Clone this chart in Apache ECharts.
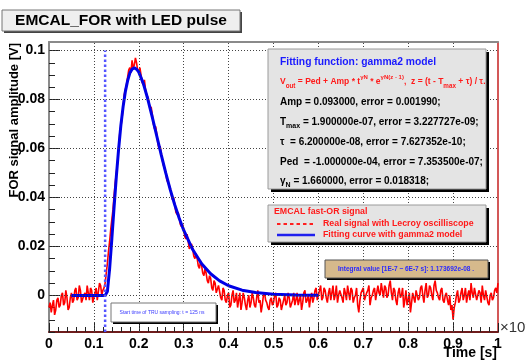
<!DOCTYPE html>
<html><head><meta charset="utf-8">
<script src="https://cdn.jsdelivr.net/npm/echarts@6/dist/echarts.min.js"></script>
<style>html,body{margin:0;padding:0;background:#fff}#c{width:526px;height:361px}</style>
</head><body><div id="c"></div>
<script>
// ---- data (time axis in units of 1e-6 s) ----
const sampleStep = 0.0025;
const signalValues = [
 -0.005,-0.003,-0.007,-0.004,-0.002,-0.008,-0.006,-0.002,-0.001,-0.005,
 -0.004,0.000,0.001,-0.004,-0.003,0.002,-0.001,-0.006,-0.005,-0.001,
 0.001,-0.003,-0.002,0.002,0.003,-0.002,-0.001,0.004,0.002,-0.003,
 -0.003,0.000,0.001,-0.002,0.004,0.001,-0.002,0.003,0.002,-0.003,
 -0.001,0.001,0.003,-0.002,-0.002,0.005,0.004,0.000,0.002,0.003,
 0.005,0.009,0.013,0.018,0.022,0.027,0.031,0.035,0.041,0.046,
 0.050,0.054,0.060,0.066,0.069,0.072,0.077,0.082,0.084,0.086,
 0.089,0.092,0.093,0.091,0.096,0.093,0.094,0.097,0.095,0.092,
 0.091,0.093,0.090,0.087,0.086,0.088,0.084,0.082,0.081,0.079,
 0.076,0.077,0.074,0.070,0.068,0.069,0.066,0.062,0.060,0.061,
 0.058,0.055,0.053,0.052,0.050,0.047,0.046,0.045,0.044,0.041,
 0.039,0.040,0.037,0.034,0.033,0.034,0.032,0.029,0.028,0.029,
 0.027,0.024,0.023,0.025,0.022,0.019,0.019,0.021,0.019,0.016,
 0.015,0.017,0.015,0.012,0.011,0.014,0.012,0.009,0.008,0.011,
 0.009,0.006,0.005,0.008,0.007,0.003,0.002,0.006,0.005,0.001,
 0.001,0.004,0.004,-0.001,-0.002,0.003,0.002,-0.002,-0.003,0.000,
 0.001,-0.005,-0.004,0.000,0.002,-0.003,-0.002,0.001,-0.005,-0.002,
 0.001,-0.006,-0.003,0.001,-0.001,-0.004,-0.006,-0.002,0.000,-0.005,
 -0.003,0.001,-0.001,-0.004,-0.005,-0.001,0.002,-0.003,-0.002,-0.007,
 -0.004,0.000,0.001,-0.002,-0.003,-0.005,-0.006,-0.002,-0.001,-0.004,
 -0.003,0.000,0.001,-0.005,-0.004,-0.001,-0.002,-0.006,-0.006,-0.002,
 0.000,-0.004,-0.003,0.001,-0.001,-0.005,-0.005,-0.002,0.001,-0.004,
 -0.002,0.001,-0.004,-0.002,0.000,-0.006,-0.003,0.001,0.002,-0.003,
 -0.002,0.000,-0.005,-0.001,0.001,-0.003,-0.001,0.002,0.003,-0.002,
 0.000,0.002,0.004,-0.002,-0.001,0.003,0.002,-0.001,-0.003,0.001,
 0.003,-0.002,0.001,0.004,-0.002,0.000,0.004,-0.003,0.000,0.002,
 0.002,-0.001,-0.003,0.003,0.001,-0.002,0.004,0.001,-0.002,0.003,
 0.002,-0.003,-0.001,0.000,0.003,-0.004,-0.007,-0.002,0.001,0.002,
 0.003,-0.002,-0.002,0.001,0.002,0.004,-0.004,-0.001,0.000,0.002,
 0.003,-0.002,-0.002,0.004,0.001,0.000,0.005,0.002,-0.001,0.004,
 0.003,-0.001,0.000,0.004,0.006,0.001,-0.002,0.003,0.002,-0.002,
 -0.004,0.001,0.003,-0.001,0.000,0.003,-0.005,-0.002,0.002,-0.004,
 -0.002,0.001,-0.007,-0.003,0.001,-0.001,-0.003,0.002,0.002,-0.002,
 -0.001,0.003,0.004,0.000,-0.003,0.002,0.005,-0.001,0.000,0.004,
 0.003,0.000,-0.002,0.004,0.006,0.002,0.001,-0.001,-0.002,0.002,
 0.003,-0.002,-0.003,0.000,0.001,-0.002,-0.004,0.000,-0.006,-0.004,
 -0.010,-0.005,-0.003,0.000,0.002,-0.003,-0.002,0.001,0.003,-0.002,
 0.000,0.003,-0.003,0.000,0.002,-0.002,0.005,0.001,-0.001,0.003,
 0.003,-0.002,-0.002,0.002,0.001,-0.003,0.004,0.000,-0.002,0.002,
 0.002,-0.003,-0.004,0.000,0.001,-0.002,-0.001,0.002,0.003,0.001,
 0.005
];
const fitTimes = [0.05,0.1,0.125,0.128,0.13,0.135,0.14,0.145,0.15,0.155,0.16,0.165,0.17,0.175,0.18,0.185,0.19,0.195,0.2,0.21,0.22,0.23,0.24,0.25,0.26,0.27,0.28,0.29,0.3,0.32,0.34,0.36,0.38,0.4,0.43,0.46,0.5,0.55,0.6];
const fitValues = [-0.0001,-0.0001,-0.0001,-0.0001,0.0015,0.0108,0.0232,0.0361,0.0486,0.0596,0.0693,0.0770,0.0832,0.0876,0.0908,0.0924,0.0930,0.0924,0.0912,0.0866,0.0802,0.0728,0.0651,0.0574,0.0500,0.0432,0.0370,0.0315,0.0266,0.0187,0.0129,0.0088,0.0059,0.0039,0.0021,0.0011,0.0004,0.0001,0.0000];
const truStartTime = 0.125;
const truLineRange = [-0.015, 0.1];
const xGridValues = [0.1,0.2,0.3,0.4,0.5,0.6,0.7,0.8,0.9];
const yMajorTicks = [0,0.02,0.04,0.06,0.08,0.1];
const yMinorTicks = [-0.015,-0.01,-0.005,0.005,0.01,0.015,0.025,0.03,0.035,0.045,0.05,0.055,0.065,0.07,0.075,0.085,0.09,0.095];
const yTickLabels = ['0','0.02','0.04','0.06','0.08','0.1'];

const F = '"Liberation Sans", Arial, Helvetica, sans-serif';
const signalData = signalValues.map((v, i) => [+(i * sampleStep).toFixed(4), v]);
const fitData = fitTimes.map((t, i) => [t, fitValues[i]]);

const chart = echarts.init(document.getElementById('c'), null, {renderer: 'canvas'});
const yMin = -0.015, yMax = 0.1035;

function boxWithShadow(x, y, w, h, fill, stroke, sh) {
  return [
    {type: 'rect', shape: {x: x + sh, y: y + sh, width: w, height: h}, style: {fill: '#000'}, z: 100},
    {type: 'rect', shape: {x: x, y: y, width: w, height: h}, style: {fill: fill, stroke: stroke, lineWidth: 1}, z: 101}
  ];
}
function txt(x, y, text, size, color, weight) {
  return {type: 'text', x: x, y: y, z: 110,
    style: {text: text, font: (weight || 'bold') + ' ' + size + 'px ' + F, fill: color, textVerticalAlign: 'middle', textAlign: 'left'}};
}
const subS = (s, c) => ({fontSize: s, fontFamily: F, fontWeight: 'bold', fill: c, verticalAlign: 'bottom', lineHeight: 15});
const supS = (s, c) => ({fontSize: s, fontFamily: F, fontWeight: 'bold', fill: c, verticalAlign: 'top', lineHeight: 15});

const graphics = [].concat(
  // title
  [{type: 'rect', shape: {x: 4, y: 12, width: 238, height: 21}, style: {fill: '#444'}, z: 100},
   {type: 'rect', shape: {x: 2, y: 10, width: 238, height: 21}, style: {fill: '#efefef', stroke: '#777', lineWidth: 1}, z: 101},
   {type: 'text', x: 121, y: 21, z: 110, style: {text: 'EMCAL_FOR with LED pulse', font: 'bold 15.5px ' + F, fill: '#000', textAlign: 'center', textVerticalAlign: 'middle'}}],
  // fit box
  boxWithShadow(268, 49, 218, 140, '#e4e4e4', '#9a9a9a', 3),
  [txt(280, 62, 'Fitting function: gamma2 model', 10.3, '#1a1aff'),
   {type: 'text', x: 280, y: 82, z: 110, style: {
     text: 'V{sub|out} = Ped + Amp * t{sup|γN} * e{sup|γN(z - 1)},  z = (t - T{sub|max} + τ) / τ.',
     font: 'bold 8.5px ' + F, fill: '#ff1a1a', textVerticalAlign: 'middle',
     rich: {sub: subS(6.3, '#ff1a1a'), sup: supS(6, '#ff1a1a')}}},
   txt(280, 102, 'Amp = 0.093000, error = 0.001990;', 10, '#000'),
   {type: 'text', x: 280, y: 122, z: 110, style: {
     text: 'T{sub|max} = 1.900000e-07, error = 3.227727e-09;', font: 'bold 10px ' + F, fill: '#000', textVerticalAlign: 'middle',
     rich: {sub: subS(7, '#000')}}},
   txt(280, 142, 'τ  = 6.200000e-08, error = 7.627352e-10;', 10, '#000'),
   txt(280, 162, 'Ped  = -1.000000e-04, error = 7.353500e-07;', 10, '#000'),
   {type: 'text', x: 280, y: 181, z: 110, style: {
     text: 'γ{sub|N} = 1.660000, error = 0.018318;', font: 'bold 10px ' + F, fill: '#000', textVerticalAlign: 'middle',
     rich: {sub: subS(7, '#000')}}}],
  // legend box
  boxWithShadow(268, 205, 218, 37, '#e4e4e4', '#9a9a9a', 3),
  [txt(274, 212, 'EMCAL fast-OR signal', 8.8, '#ff1a1a'),
   {type: 'line', shape: {x1: 277, y1: 224, x2: 315, y2: 224}, style: {stroke: '#ff2020', lineWidth: 2.2, lineDash: [3.5, 3]}, z: 110},
   txt(323, 224, 'Real signal with Lecroy oscilliscope', 8.8, '#ff1a1a'),
   {type: 'line', shape: {x1: 277, y1: 235, x2: 315, y2: 235}, style: {stroke: '#2020ee', lineWidth: 2.5}, z: 110},
   txt(323, 235, 'Fitting curve with gamma2 model', 8.8, '#ff1a1a')],
  // integral box
  boxWithShadow(325, 260, 163, 18, '#d6b98c', '#555', 2),
  [{type: 'text', x: 406, y: 269, z: 110, style: {text: 'Integral value [1E-7 ~ 6E-7 s]: 1.173692e-08 .', font: 'bold 6.5px ' + F, fill: '#2a2aff', textAlign: 'center', textVerticalAlign: 'middle'}}],
  // start time box
  boxWithShadow(111, 303, 105, 19, '#ffffff', '#777', 2),
  [{type: 'text', x: 162, y: 312.5, z: 110, style: {text: 'Start time of TRU sampling: t = 125 ns', font: '5px ' + F, fill: '#3a3aff', textAlign: 'center', textVerticalAlign: 'middle'}}],
  // axis titles
  [{type: 'text', x: 14, y: 43, rotation: Math.PI / 2, z: 110, style: {text: 'FOR signal amplitude [V]', font: 'bold 13px ' + F, fill: '#000', textAlign: 'right', textVerticalAlign: 'middle'}},
   {type: 'text', x: 497, y: 353, z: 110, style: {text: 'Time [s]', font: 'bold 14px ' + F, fill: '#000', textAlign: 'right', textVerticalAlign: 'middle'}},
   {type: 'text', x: 500, y: 328, z: 110, style: {text: '×10{sup|-6}', font: '15px ' + F, fill: '#333', textVerticalAlign: 'middle', rich: {sup: {fontSize: 10, fontFamily: F, fill: '#333', verticalAlign: 'top', lineHeight: 18}}}}]
);

const option = {
  animation: false,
  backgroundColor: '#fff',
  grid: {left: 49, right: 28, top: 42, bottom: 29},
  xAxis: [
    {type: 'value', min: 0, max: 1, interval: 0.1, position: 'bottom',
     axisLine: {show: true, onZero: false, lineStyle: {color: '#6e1c1c', width: 2}},
     axisTick: {show: true, inside: true, length: 9, lineStyle: {color: '#222', width: 1}},
     minorTick: {show: true, splitNumber: 5, length: 5, lineStyle: {color: '#222', width: 1}},
     axisLabel: {show: true, margin: 5, color: '#000', fontFamily: F, fontWeight: 'bold', fontSize: 14, showMinLabel: true, showMaxLabel: true},
     splitLine: {show: false}},
    {type: 'value', min: 0, max: 1, position: 'top',
     axisLine: {show: true, onZero: false, lineStyle: {color: '#8a8a8a', width: 2}},
     axisTick: {show: false}, axisLabel: {show: false}, splitLine: {show: false}}
  ],
  yAxis: [
    {type: 'value', min: yMin, max: yMax, position: 'left',
     axisLine: {show: true, onZero: false, lineStyle: {color: '#8a8a8a', width: 2}},
     axisTick: {show: true, inside: true, length: 11, customValues: yMajorTicks, lineStyle: {color: '#222', width: 1}},
     axisLabel: {show: true, customValues: yMajorTicks, margin: 4, color: '#000', fontFamily: F, fontWeight: 'bold', fontSize: 14,
       formatter: v => yTickLabels[yMajorTicks.findIndex(m => Math.abs(m - v) < 1e-9)] || ''},
     splitLine: {show: false}},
    {type: 'value', min: yMin, max: yMax, position: 'left',
     axisLine: {show: false},
     axisTick: {show: true, inside: true, length: 6, customValues: yMinorTicks, lineStyle: {color: '#222', width: 1}},
     axisLabel: {show: false}, splitLine: {show: false}},
    {type: 'value', min: yMin, max: yMax, position: 'right',
     axisLine: {show: true, onZero: false, lineStyle: {color: '#c42020', width: 1.5}},
     axisTick: {show: false}, axisLabel: {show: false}, splitLine: {show: false}}
  ],
  series: [
    {type: 'line', data: [], silent: true, z: 1,
     markLine: {silent: true, symbol: 'none', label: {show: false}, animation: false,
       lineStyle: {type: [1, 2], color: '#444', width: 1},
       data: xGridValues.map(v => ({xAxis: v})).concat(yMajorTicks.map(v => ({yAxis: v})))}},
    {name: 'Real signal with Lecroy oscilliscope', type: 'line', data: signalData, symbol: 'none', z: 3,
     lineStyle: {color: '#ff0000', width: 1.6}},
    {name: 'Fitting curve with gamma2 model', type: 'line', data: fitData, symbol: 'none', z: 4,
     lineStyle: {color: '#0000e6', width: 3}},
    {name: 'TRU start', type: 'line', data: [[truStartTime, truLineRange[0]], [truStartTime, truLineRange[1]]], symbol: 'none', z: 5,
     lineStyle: {color: '#5555ff', width: 2.5, type: [2.5, 2.5]}}
  ],
  graphic: graphics
};
chart.setOption(option);
</script>
</body></html>
